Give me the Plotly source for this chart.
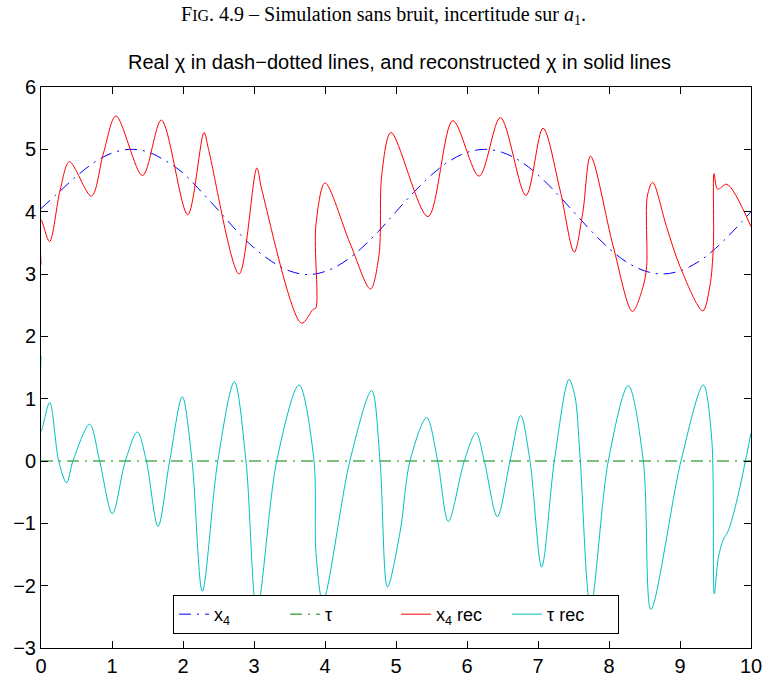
import plotly.graph_objects as go

# ---- data ----
x4_t = [0, 0.25, 0.5, 0.75, 1.0, 1.25, 1.5, 1.75, 2.0, 2.25, 2.5, 2.75, 3.0, 3.25, 3.5, 3.75,
        4.0, 4.25, 4.5, 4.75, 5.0, 5.25, 5.5, 5.75, 6.0, 6.25, 6.5, 6.75, 7.0, 7.25, 7.5, 7.75,
        8.0, 8.25, 8.5, 8.75, 9.0, 9.25, 9.5, 9.75, 10.0]
x4_real = [4.05, 4.31, 4.57, 4.79, 4.94, 5.0, 4.96, 4.82, 4.62, 4.33, 4.02, 3.70, 3.42, 3.2, 3.05, 2.99,
           3.04, 3.18, 3.40, 3.68, 4.0, 4.31, 4.59, 4.81, 4.95, 5.0, 4.95, 4.81, 4.59, 4.31, 4.0, 3.69,
           3.41, 3.19, 3.05, 3.0, 3.05, 3.19, 3.41, 3.69, 4.0]

tau_t = [0, 10]
tau_real = [0, 0]

x4rec_t = [0.0, 0.0, 0.12, 0.27, 0.40, 0.71, 0.88, 1.056, 1.43, 1.695, 2.066, 2.296, 2.36, 2.79,
           3.04, 3.11, 3.67, 3.83, 3.87, 3.87, 4.0, 4.35, 4.64, 4.76, 4.80, 4.93, 5.45, 5.80,
           6.17, 6.47, 6.83, 7.07, 7.31, 7.51, 7.63, 7.74, 8.06, 8.33, 8.48, 8.53, 8.54, 8.615,
           8.81, 9.0, 9.32, 9.42, 9.47, 9.48, 9.53, 9.66, 10.0]
x4rec = [3.15, 3.87, 3.52, 4.35, 4.80, 4.25, 4.94, 5.535, 4.58, 5.47, 3.95, 5.27, 5.0, 3.0,
         4.70, 4.35, 2.21, 2.43, 2.45, 3.76, 4.46, 3.50, 2.76, 3.3, 4.6, 5.27, 3.92, 5.46,
         4.57, 5.51, 4.26, 5.34, 4.35, 3.35, 3.98, 4.89, 3.44, 2.40, 2.80, 3.12, 4.25, 4.47,
         3.76, 3.12, 2.41, 2.80, 3.44, 4.61, 4.36, 4.44, 3.76]

taurec_t = [0.0, 0.0, 0.122, 0.249, 0.36, 0.45, 0.685, 0.826, 1.005, 1.188, 1.357, 1.484, 1.648,
            1.812, 1.99, 2.127, 2.272, 2.49, 2.723, 2.887, 3.04, 3.32, 3.634, 3.845, 3.873, 3.97,
            4.35, 4.657, 4.775, 4.88, 5.06, 5.197, 5.432, 5.587, 5.737, 5.962, 6.127, 6.244,
            6.427, 6.606, 6.756, 6.887, 7.052, 7.23, 7.437, 7.52, 7.59, 7.74, 7.99, 8.272,
            8.483, 8.59, 9.014, 9.328, 9.446, 9.483, 9.54, 9.61, 9.68, 9.81, 10.0]
taurec = [1.69, 0.48, 0.94, 0.0, -0.35, 0.0, 0.59, 0.0, -0.845, 0.0, 0.465, 0.0, -1.05,
          0.0, 1.03, 0.0, -2.09, 0.0, 1.27, 0.0, -2.4, 0.0, 1.22, 0.0, -1.47, -2.25,
          0.0, 1.13, 0.0, -2.02, -1.12, 0.0, 0.695, 0.0, -0.97, 0.0, 0.455, 0.0,
          -0.893, 0.0, 0.73, 0.0, -1.70, 0.0, 1.31, 1.04, 0.11, -2.35, 0.0, 1.21,
          0.0, -2.38, 0.0, 1.22, 0.37, -2.13, -1.55, -1.26, -1.12, -0.59, 0.45]

x_ticks = list(range(0, 11))
y_ticks = list(range(-3, 7))

DASHDOT = "12px,6px,2px,6px"

fig = go.Figure()
fig.add_trace(go.Scatter(x=x4_t, y=x4_real, mode="lines", name="x<sub>4</sub>",
                         line=dict(color="#0000FF", width=1, dash=DASHDOT, shape="spline")))
fig.add_trace(go.Scatter(x=tau_t, y=tau_real, mode="lines", name="τ",
                         line=dict(color="#008000", width=1, dash=DASHDOT)))
fig.add_trace(go.Scatter(x=x4rec_t, y=x4rec, mode="lines", name="x<sub>4</sub> rec",
                         line=dict(color="#FF0000", width=1, shape="spline", smoothing=0.9)))
fig.add_trace(go.Scatter(x=taurec_t, y=taurec, mode="lines", name="τ rec",
                         line=dict(color="#00BFBF", width=1, shape="spline", smoothing=0.9)))

axis_common = dict(showgrid=False, zeroline=False, showline=True, linecolor="black", linewidth=1,
                   mirror="ticks", ticks="inside", ticklen=7, tickcolor="black", automargin=False,
                   tickfont=dict(family="Liberation Sans, Arial", size=20, color="black"))
fig.update_xaxes(range=[0, 10], tickvals=x_ticks, **axis_common)
fig.update_yaxes(range=[-3, 6], tickvals=y_ticks, **axis_common)

fig.update_layout(
    width=766, height=676,
    margin=dict(l=41, r=15, t=87, b=28),
    paper_bgcolor="white", plot_bgcolor="white",
    showlegend=True,
    legend=dict(orientation="h", x=0.186, y=0.0945, xanchor="left", yanchor="top",
                bgcolor="white", bordercolor="black", borderwidth=1,
                entrywidth=66, entrywidthmode="pixels",
                font=dict(family="Liberation Sans, Arial", size=18, color="black")),
    annotations=[
        dict(text="F<span style='font-size:16px'>IG</span>. 4.9 – Simulation sans bruit, incertitude sur <i>a</i><sub>1</sub>.",
             xref="paper", yref="paper", x=0.4817, y=1.128, xanchor="center", yanchor="middle",
             showarrow=False, font=dict(family="Liberation Serif, Times New Roman", size=20, color="black")),
        dict(text="Real χ in dash−dotted lines, and reconstructed χ in solid lines",
             xref="paper", yref="paper", x=0.5056, y=1.0446, xanchor="center", yanchor="middle",
             showarrow=False, font=dict(family="Liberation Sans, Arial", size=20, color="black")),
    ],
)

fig.write_html("out.html")
